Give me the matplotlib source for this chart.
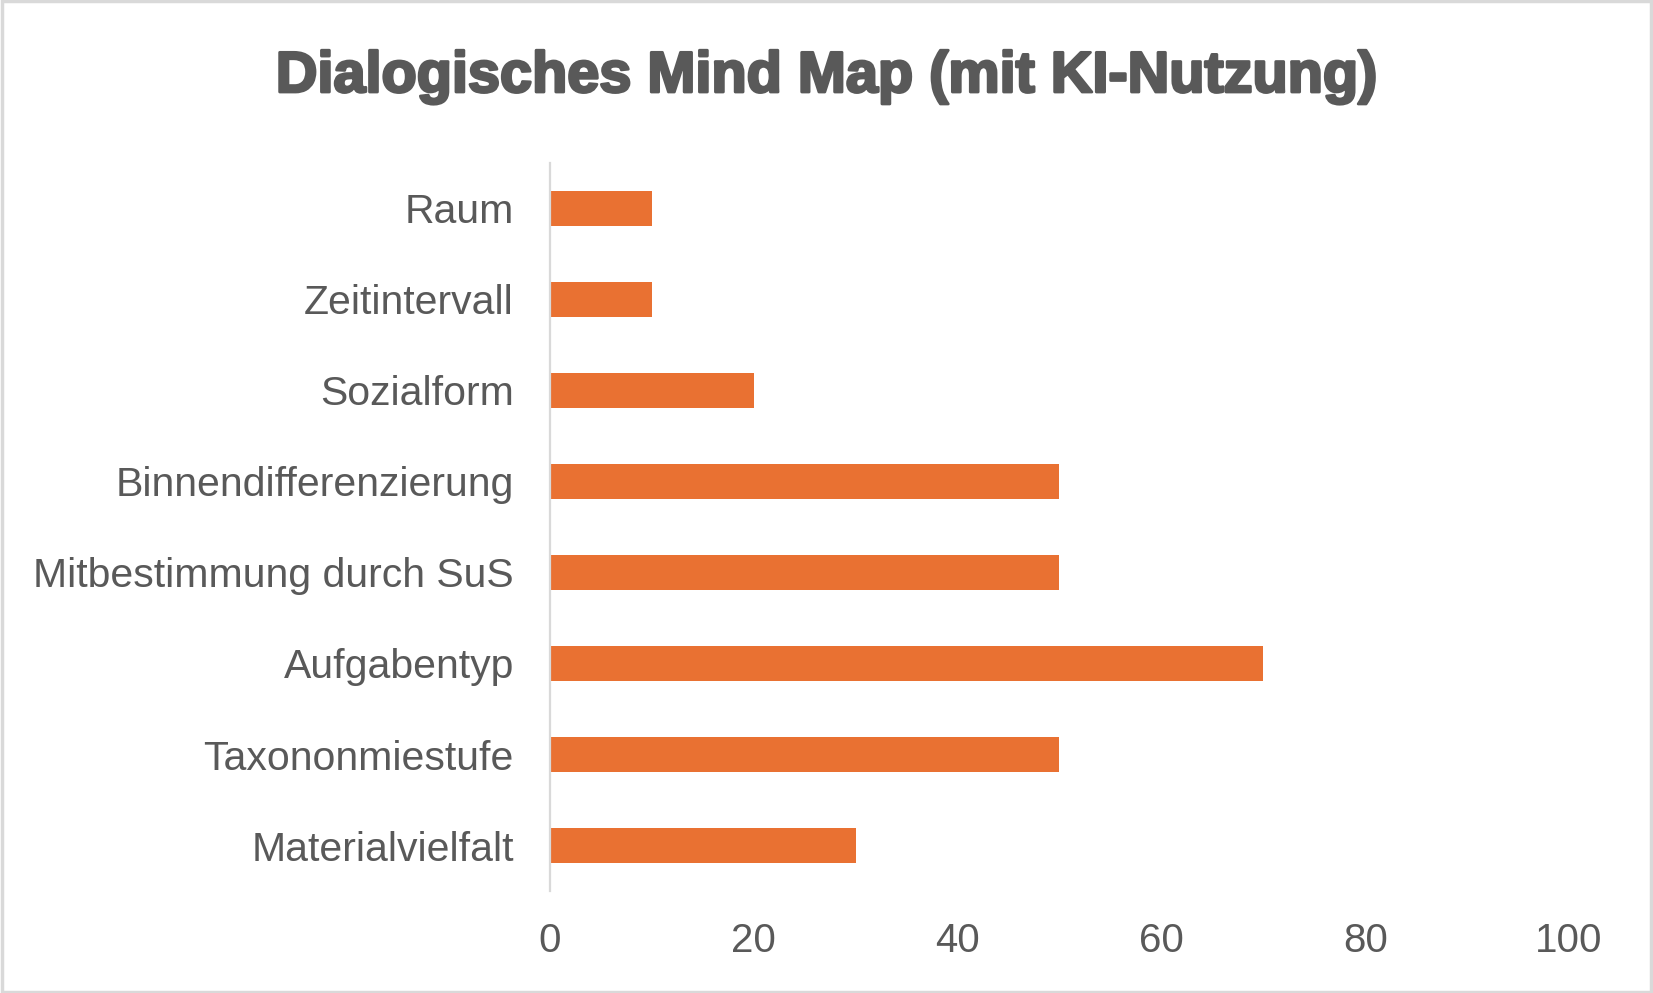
import matplotlib
matplotlib.use("Agg")
import matplotlib.pyplot as plt
import matplotlib.patheffects as pe
from matplotlib.patches import Rectangle
import numpy as np

# Kategorien von oben nach unten, wie im Diagramm
categories = ["Raum", "Zeitintervall", "Sozialform", "Binnendifferenzierung",
              "Mitbestimmung durch SuS", "Aufgabentyp", "Taxononmiestufe",
              "Materialvielfalt"]
values = [10, 10, 20, 50, 50, 70, 50, 30]
x_ticks = [0, 20, 40, 60, 80, 100]
title = "Dialogisches Mind Map (mit KI-Nutzung)"

TEXT = "#595959"
BAR = "#E97132"
GRID = "#D9D9D9"

plt.rcParams["font.family"] = ["Liberation Sans", "DejaVu Sans"]

fig = plt.figure(figsize=(16.53, 9.93), dpi=100)
ax = fig.add_axes([0.3327, 0.1027, 0.9492 - 0.3327, 0.8359 - 0.1027])

y = np.arange(len(categories))
ax.barh(y, values, height=0.39, color=BAR)
ax.set_ylim(len(categories) - 0.5, -0.5)
ax.set_xlim(0, 100)

ax.set_yticks(y)
ax.set_yticklabels(categories)
ax.set_xticks(x_ticks)
ax.set_xticklabels([str(t) for t in x_ticks])
ax.tick_params(axis="y", length=0, pad=26, labelsize=29.5, labelcolor=TEXT)
ax.tick_params(axis="x", length=0, pad=22, labelsize=29, labelcolor=TEXT)

for side in ("top", "right", "bottom"):
    ax.spines[side].set_visible(False)
ax.spines["left"].set_color(GRID)
ax.spines["left"].set_linewidth(1.6)

# Titel: Arial Black gibt es nicht, also fett + Kontur
fig.text(0.5, 1 - 77 / 993, title, ha="center", va="center",
         fontsize=41.5, fontweight="bold", color=TEXT,
         path_effects=[pe.withStroke(linewidth=2.0, foreground=TEXT)])

# heller Rahmen ums Diagramm
fig.patches.append(Rectangle((0.001, 0.001), 0.998, 0.998, transform=fig.transFigure,
                             fill=False, edgecolor=GRID, linewidth=2.5))

fig.savefig("out.png", dpi=100)
